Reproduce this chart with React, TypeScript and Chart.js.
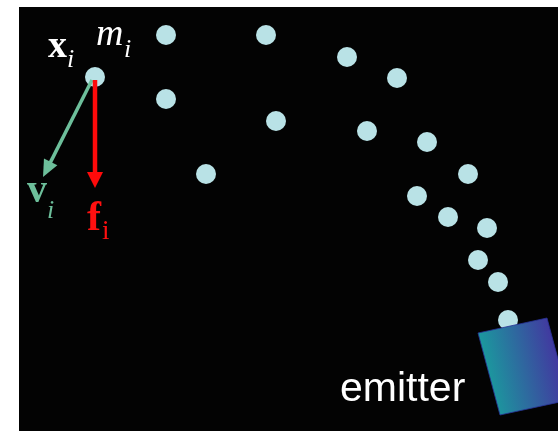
import React, { useEffect, useRef } from "react";
import { Chart, registerables } from "chart.js";

Chart.register(...registerables);

// Particle positions (scene units = page pixels)
const particleX = [166, 266, 347, 397, 166, 276, 367, 427, 206, 468, 417, 448, 487, 478, 498, 508];
const particleY = [35, 35, 57, 78, 99, 121, 131, 142, 174, 174, 196, 217, 228, 260, 282, 320];

// Highlighted particle i
const focusX = [95];
const focusY = [77];

// Vector tips (velocity and force)
const velocityStart = [92, 80];
const velocityTip = [43, 177];
const forceStart = [95, 80];
const forceTip = [95, 188];

// Emitter quad corners: TL, TR, BR, BL
const emitterX = [478, 547, 569, 500];
const emitterY = [333, 318, 400, 415];

// Scene frame
const frameX = [19, 558];
const frameY = [7, 431];

// Labels
const labelText = ["x", "i", "m", "i", "v", "i", "f", "i", "emitter"];
const labelX = [48, 67, 96, 124, 27, 47, 87, 102, 340];
const labelY = [57, 67, 45, 57, 202, 218, 230, 239, 401];

const labelFont = [
  "bold 38px 'Liberation Serif'",
  "italic 26px 'Liberation Serif'",
  "italic 38px 'Liberation Serif'",
  "italic 26px 'Liberation Serif'",
  "bold 40px 'Liberation Serif'",
  "italic 26px 'Liberation Serif'",
  "bold 42px 'Liberation Serif'",
  "27px 'Liberation Serif'",
  "41px 'Liberation Sans'",
];
const labelColor = ["#ffffff", "#ffffff", "#ffffff", "#ffffff", "#6dbf9b", "#6dbf9b", "#ff1010", "#ff1010", "#ffffff"];

const DOT = "#b9e2e6";

function drawArrow(ctx: CanvasRenderingContext2D, x0: number, y0: number, x1: number, y1: number, color: string, width: number, headLen: number, headHalf: number) {
  const dx = x1 - x0;
  const dy = y1 - y0;
  const len = Math.hypot(dx, dy);
  const ux = dx / len;
  const uy = dy / len;
  const bx = x1 - ux * headLen;
  const by = y1 - uy * headLen;
  ctx.save();
  ctx.strokeStyle = color;
  ctx.fillStyle = color;
  ctx.lineWidth = width;
  ctx.beginPath();
  ctx.moveTo(x0, y0);
  ctx.lineTo(bx + ux * 2, by + uy * 2);
  ctx.stroke();
  ctx.beginPath();
  ctx.moveTo(x1, y1);
  ctx.lineTo(bx - uy * headHalf, by + ux * headHalf);
  ctx.lineTo(bx + uy * headHalf, by - ux * headHalf);
  ctx.closePath();
  ctx.fill();
  ctx.restore();
}

const scenePlugin = {
  id: "scene",
  beforeDraw(chart: any) {
    const ctx = chart.ctx;
    const xs = chart.scales.x;
    const ys = chart.scales.y;
    const l = xs.getPixelForValue(frameX[0]);
    const r = xs.getPixelForValue(frameX[1]);
    const t = ys.getPixelForValue(frameY[0]);
    const b = ys.getPixelForValue(frameY[1]);
    ctx.save();
    ctx.fillStyle = "#030303";
    ctx.fillRect(l, t, r - l, b - t);
    ctx.restore();
  },
  afterDatasetsDraw(chart: any) {
    const ctx: CanvasRenderingContext2D = chart.ctx;
    const xs = chart.scales.x;
    const ys = chart.scales.y;
    const px = (v: number) => xs.getPixelForValue(v);
    const py = (v: number) => ys.getPixelForValue(v);

    // arrows
    drawArrow(ctx, px(velocityStart[0]), py(velocityStart[1]), px(velocityTip[0]), py(velocityTip[1]), "#6dbf9b", 3.5, 17, 7.5);
    drawArrow(ctx, px(forceStart[0]), py(forceStart[1]), px(forceTip[0]), py(forceTip[1]), "#ff0a0a", 4.5, 16, 8);

    // emitter
    const ex = emitterX.map(px);
    const ey = emitterY.map(py);
    const g = ctx.createLinearGradient((ex[0] + ex[3]) / 2, (ey[0] + ey[3]) / 2, (ex[1] + ex[2]) / 2, (ey[1] + ey[2]) / 2);
    g.addColorStop(0, "rgb(28,150,158)");
    g.addColorStop(1, "rgb(66,56,160)");
    ctx.save();
    ctx.beginPath();
    ctx.moveTo(ex[0], ey[0]);
    for (let k = 1; k < ex.length; k++) ctx.lineTo(ex[k], ey[k]);
    ctx.closePath();
    ctx.fillStyle = g;
    ctx.fill();
    ctx.strokeStyle = "rgba(40,50,150,0.8)";
    ctx.lineWidth = 1;
    ctx.stroke();
    ctx.restore();

    // labels
    ctx.save();
    ctx.textAlign = "left";
    ctx.textBaseline = "alphabetic";
    for (let k = 0; k < labelText.length; k++) {
      ctx.font = labelFont[k];
      ctx.fillStyle = labelColor[k];
      ctx.fillText(labelText[k], px(labelX[k]), py(labelY[k]));
    }
    ctx.restore();
  },
};

export default function App() {
  const ref = useRef<HTMLCanvasElement>(null);
  useEffect(() => {
    if (!ref.current) return;
    const chart = new Chart(ref.current, {
      type: "scatter",
      data: {
        datasets: [
          {
            label: "particles",
            data: particleX.map((x, k) => ({ x, y: particleY[k] })),
            pointRadius: 10,
            pointBackgroundColor: DOT,
            pointBorderWidth: 0,
            pointBorderColor: DOT,
            clip: false,
          },
          {
            label: "particle i",
            data: focusX.map((x, k) => ({ x, y: focusY[k] })),
            pointRadius: 10,
            pointBackgroundColor: DOT,
            pointBorderWidth: 0,
            pointBorderColor: DOT,
            clip: false,
          },
        ],
      },
      options: {
        animation: false,
        responsive: false,
        maintainAspectRatio: false,
        devicePixelRatio: 1,
        layout: { padding: 0, autoPadding: false },
        plugins: { legend: { display: false }, tooltip: { enabled: false } },
        events: [],
        scales: {
          x: { type: "linear", min: 0, max: 558, display: false },
          y: { type: "linear", min: 0, max: 431, reverse: true, display: false },
        },
      },
      plugins: [scenePlugin],
    });
    return () => chart.destroy();
  }, []);
  return (
    <div style={{ position: "fixed", left: 0, top: 0, width: 558, height: 431 }}>
      <canvas ref={ref} width={558} height={431} style={{ display: "block" }} />
    </div>
  );
}
